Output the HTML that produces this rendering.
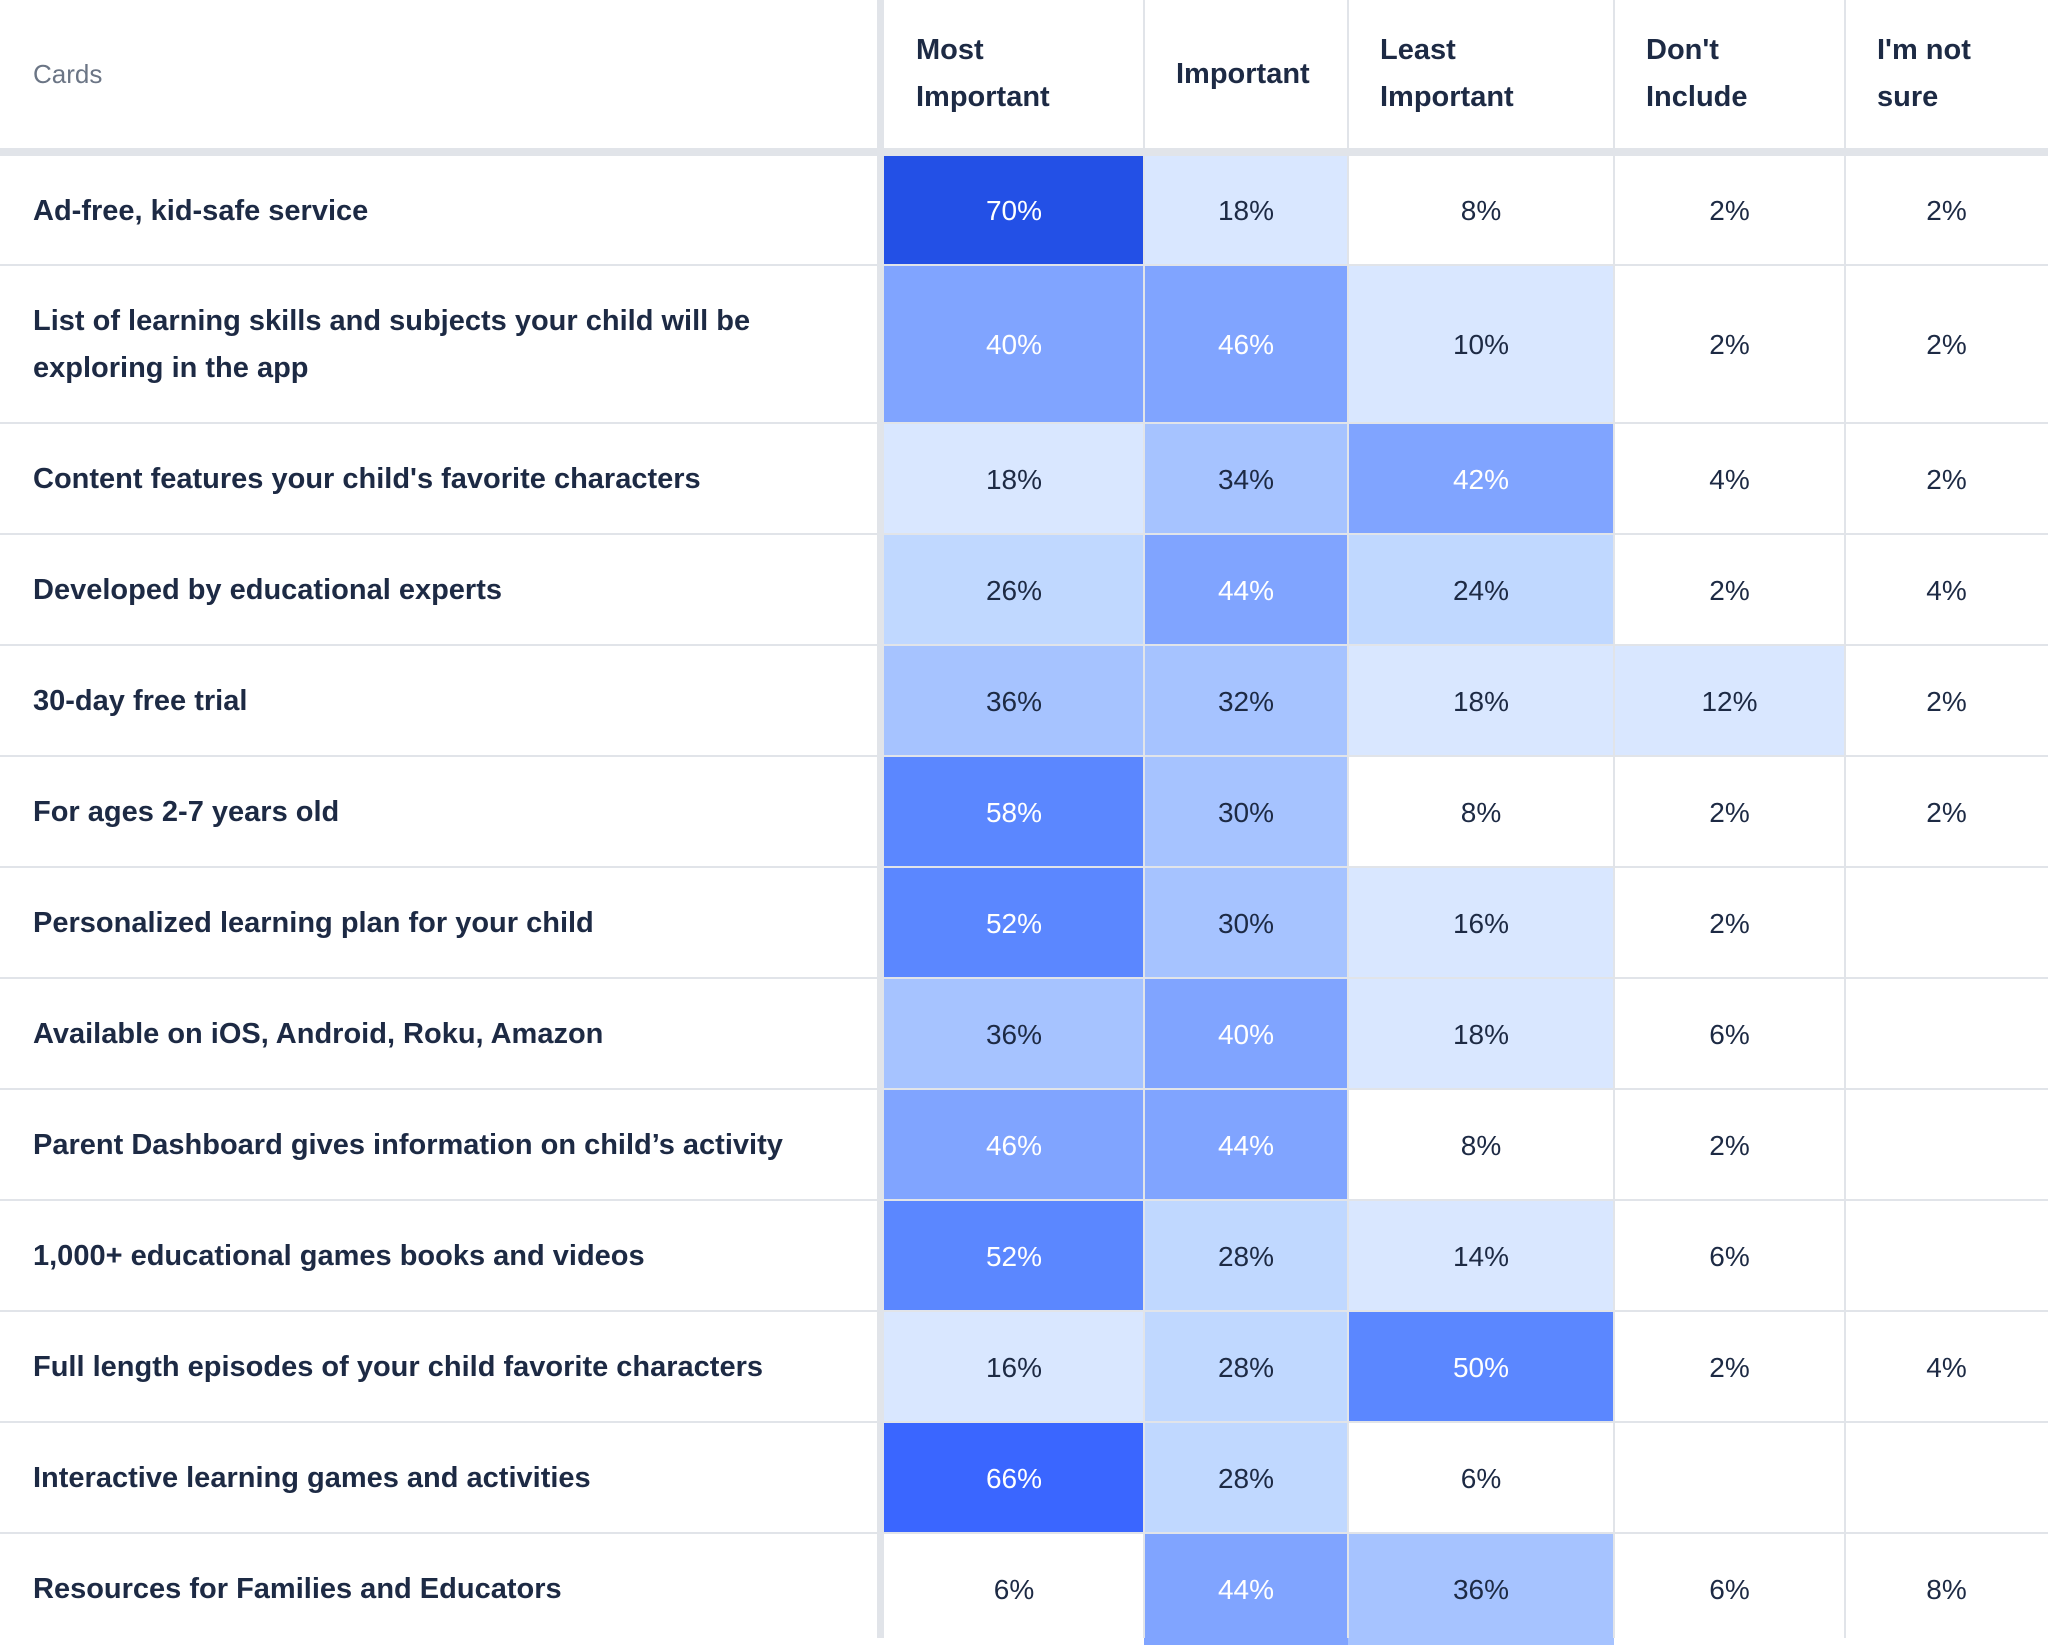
<!DOCTYPE html>
<html><head><meta charset="utf-8"><style>
body{margin:0;width:2048px;height:1638px;overflow:hidden;background:#fff;font-family:"Liberation Sans",sans-serif;color:#1d2a44;position:relative}
.c{position:absolute;box-sizing:border-box;display:flex;align-items:center}
.hl{position:absolute;background:#e1e4e9}
</style></head><body>
<div id="root"></div>
<script>
const cards=["Ad-free, kid-safe service","List of learning skills and subjects your child will be|exploring in the app","Content features your child's favorite characters","Developed by educational experts","30-day free trial","For ages 2-7 years old","Personalized learning plan for your child","Available on iOS, Android, Roku, Amazon","Parent Dashboard gives information on child’s activity","1,000+ educational games books and videos","Full length episodes of your child favorite characters","Interactive learning games and activities","Resources for Families and Educators"];
const columns=["Most|Important","Important","Least|Important","Don't|Include","I'm not|sure"];
const mostImportant=[70,40,18,26,36,58,52,36,46,52,16,66,6];
const important=[18,46,34,44,32,30,30,40,44,28,28,28,44];
const leastImportant=[8,10,42,24,18,8,16,18,8,14,50,6,36];
const dontInclude=[2,2,4,2,12,2,2,6,2,6,2,null,6];
const notSure=[2,2,2,4,2,2,null,null,null,null,4,null,8];
const series=[mostImportant,important,leastImportant,dontInclude,notSure];
const colX=[884,1144,1348,1614,1845,2048];
const rowY=[156,266,424,535,646,757,868,979,1090,1201,1312,1423,1534,1645];
function color(v){if(v==null||v<10)return"#fff";if(v<20)return"#d9e7ff";if(v<30)return"#c0d8ff";if(v<40)return"#a6c3ff";if(v<50)return"#80a4ff";if(v<60)return"#5b87ff";if(v<70)return"#3a66ff";return"#2350e6";}
const root=document.getElementById('root');
function mk(cls,st,html){const d=document.createElement('div');d.className=cls;d.style.cssText=st;if(html!=null)d.innerHTML=html;root.appendChild(d);return d;}
let h=mk('c','left:33px;top:0;width:800px;height:148px;font-size:26px;color:#6b7585','Cards');


columns.forEach((t,i)=>{const d=mk('c',`left:${colX[i]}px;top:0;width:${colX[i+1]-colX[i]}px;height:148px;padding-left:${i==1?32:32}px;font-size:29px;font-weight:bold;line-height:47px`,t.replace('|','<br>'));

});
cards.forEach((t,r)=>{const y=rowY[r],hh=rowY[r+1]-y;
const l=mk('c',`left:33px;top:${y}px;width:840px;height:${hh}px;font-size:29px;font-weight:bold;line-height:47px`,t.replace('|','<br>'));


series.forEach((s,i)=>{const v=s[r];const d=mk('c',`left:${colX[i]}px;top:${y}px;width:${colX[i+1]-colX[i]}px;height:${hh}px;justify-content:center;font-size:28px;background:${color(v)};color:${v!=null&&v>=40?'#fff':'#1d2a44'}`,v==null?'':v+'%');

});
const g=mk('hl',`left:0;top:${y-2}px;width:2048px;height:2px`);});
for(let i=1;i<5;i++){const g=mk('hl',`left:${colX[i]-1}px;top:0;width:2px;height:1638px`);}
let s1=mk('hl','left:0;top:148px;width:2048px;height:8px');
let s2=mk('hl','left:877px;top:0;width:7px;height:1638px');
</script>
</body></html>
